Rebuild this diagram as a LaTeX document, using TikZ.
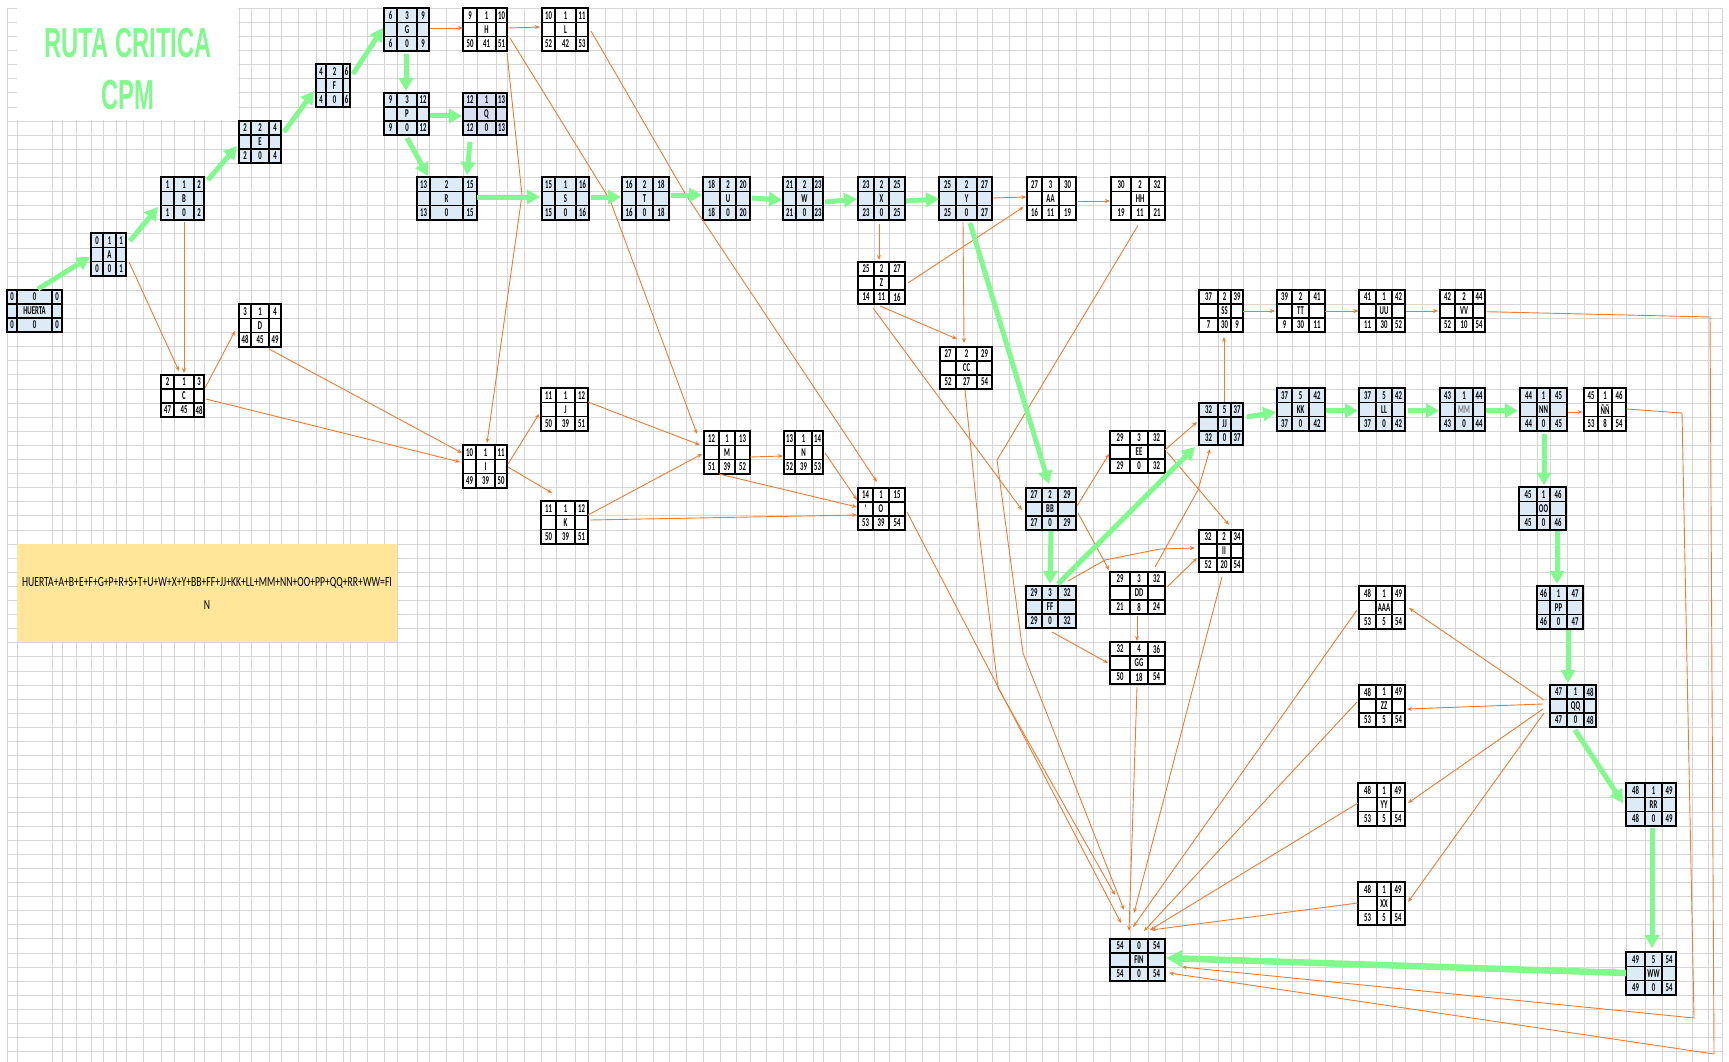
\documentclass[tikz,border=0pt]{standalone}
\usepackage{fontspec}
\setmainfont{Carlito}
\newfontfamily\titlef{Liberation Sans}
\usetikzlibrary{arrows.meta,calc}
\definecolor{org}{RGB}{237,125,49}
\definecolor{grn}{RGB}{128,250,140}
\definecolor{nb}{RGB}{221,235,247}
\definecolor{nq}{RGB}{218,222,242}
\definecolor{gridc}{RGB}{214,214,214}
\definecolor{ylw}{RGB}{255,230,153}
\newcommand\cellfont{\fontsize{12}{12}\selectfont\bfseries}
\newcommand\ct[1]{\scalebox{0.56}[1]{#1}}
\def\getgeom#1,#2,#3,#4,#5,#6\relax{\def\Gxa{#1}\def\Gca{#2}\def\Gcb{#3}\def\Gxb{#4}\def\Gya{#5}\def\Gyb{#6}}
\def\getnums#1,#2,#3,#4,#5,#6\relax{\def\Qa{#1}\def\Qb{#2}\def\Qc{#3}\def\Qd{#4}\def\Qe{#5}\def\Qf{#6}}
\newcommand\act[5][white]{%
 \getgeom#3\relax
 \getnums#5\relax
 \pgfmathsetmacro\Gww{\Gxb-\Gxa}%
 \pgfmathsetmacro\Ghh{\Gyb-\Gya}%
 \pgfmathsetmacro\Gra{\Gya+\Ghh/3}%
 \pgfmathsetmacro\Grb{\Gya+2*\Ghh/3}%
 \pgfmathsetmacro\GmA{(\Gxa+\Gca)/2}%
 \pgfmathsetmacro\GmB{(\Gca+\Gcb)/2}%
 \pgfmathsetmacro\GmC{(\Gcb+\Gxb)/2}%
 \pgfmathsetmacro\GyA{(\Gya+\Gra)/2}%
 \pgfmathsetmacro\GyB{(\Gra+\Grb)/2}%
 \pgfmathsetmacro\GyC{(\Grb+\Gyb)/2}%
 \node[fill=#1,inner sep=0,outer sep=0,minimum width=\Gww pt,minimum height=\Ghh pt,anchor=north west] (#2) at (\Gxa,\Gya) {};
 \draw[line width=1.2pt] (\Gxa,\Gya) rectangle (\Gxb,\Gyb) (\Gxa,\Gra) -- (\Gxb,\Gra) (\Gxa,\Grb) -- (\Gxb,\Grb) (\Gca,\Gya) -- (\Gca,\Gyb) (\Gcb,\Gya) -- (\Gcb,\Gyb);
 \node[cellt] at (\GmA,\GyA) {\ct{\Qa}};
 \node[cellt] at (\GmB,\GyA) {\ct{\Qb}};
 \node[cellt] at (\GmC,\GyA) {\ct{\Qc}};
 \node[cellt] at (\GmB,\GyB) {\ct{#4}};
 \node[cellt] at (\GmA,\GyC) {\ct{\Qd}};
 \node[cellt] at (\GmB,\GyC) {\ct{\Qe}};
 \node[cellt] at (\GmC,\GyC) {\ct{\Qf}};
}
\begin{document}
\begin{tikzpicture}[x=1pt,y=-1pt,
 oarr/.style={draw=org,line width=0.9pt,-{Stealth[length=5pt,width=4pt]}},
 garr/.style={draw=grn,line width=5pt,-{Triangle[length=13pt,width=14pt]}},
 gridl/.style={draw=gridc,line width=0.9pt},
 cellt/.style={inner sep=0,font=\cellfont}]
\useasboundingbox (0,0) rectangle (1729,1062);
\fill[white] (0,0) rectangle (1729,1062);
% grid
\foreach \gx in {7,17,52,62,76,91,103,116,126,143,161,174,194,204,221,239,251,269,281,298,316,326,343,350,367,384,397,417,429,446,463,477,496,507,524,541,556,575,588,605,622,636,653,669,686,703,720,736,750,766,783,796,813,823,840,858,874,889,905,922,939,956,977,992,1009,1026,1042,1058,1076,1093,1110,1130,1148,1165,1182,1199,1218,1231,1243,1260,1277,1292,1309,1325,1342,1359,1376,1392,1405,1422,1440,1455,1473,1485,1500,1520,1537,1550,1567,1584,1598,1612,1626,1645,1662,1676,1692,1708,1722}
  \draw[gridl] (\gx,8) -- (\gx,1062);
\foreach \k in {0,...,74}
  \draw[gridl] (7,{8.3+14.1*\k}) -- (1722,{8.3+14.1*\k});
% title
\node[fill=white,inner sep=0,minimum width=221pt,minimum height=112pt,anchor=north west] (titlebox) at (17,8) {};
\node[inner sep=0,text=grn,font=\titlef\bfseries\fontsize{42}{42}\selectfont] (t1) at (128,43) {\scalebox{0.565}[1]{RUTA CRITICA}};
\node[inner sep=0,text=grn,font=\titlef\bfseries\fontsize{42}{42}\selectfont] (t2) at (127.5,95) {\scalebox{0.565}[1]{CPM}};
% note
\node[fill=ylw,inner sep=0,minimum width=380pt,minimum height=98pt] (note) at (207,593) {};
\node[inner sep=0,font=\fontsize{14}{14}\selectfont] (n1) at (207,583) {\scalebox{0.69}[1]{HUERTA+A+B+E+F+G+P+R+S+T+U+W+X+Y+BB+FF+JJ+KK+LL+MM+NN+OO+PP+QQ+RR+WW=FI}};
\node[inner sep=0,font=\fontsize{14}{14}\selectfont] (n2) at (207,605) {\scalebox{0.69}[1]{N}};
% nodes
\act[nb]{HUERTA}{7,17,52,62,290,332}{HUERTA}{0,0,0,0,0,0}
\act[nb]{A}{91,103,116,126,233,276}{A}{0,1,1,0,0,1}
\act[nb]{B}{161,174,194,204,177,220}{B}{1,1,2,1,0,2}
\act{C}{161,174,194,204,375,417}{C}{2,1,3,47,45,48}
\act{D}{239,251,269,281,304,347}{D}{3,1,4,48,45,49}
\act[nb]{E}{239,251,269,281,121,163}{E}{2,2,4,2,0,4}
\act[nb]{F}{316,326,343,350,64,107}{F}{4,2,6,4,0,6}
\act[nb]{G}{384,397,417,429,8,51}{G}{6,3,9,6,0,9}
\act{H}{463,477,496,507,8,51}{H}{9,1,10,50,41,51}
\act{L}{542,555,576,588,8,51}{L}{10,1,11,52,42,53}
\act[nb]{P}{384,397,417,429,93,135}{P}{9,3,12,9,0,12}
\act[nq]{Q}{463,477,496,507,93,135}{Q}{12,1,13,12,0,13}
\act[nb]{R}{417,430,463,477,177,220}{R}{13,2,15,13,0,15}
\act[nb]{S}{542,555,576,589,177,220}{S}{15,1,16,15,0,16}
\act[nb]{T}{622,636,653,669,177,220}{T}{16,2,18,16,0,18}
\act[nb]{U}{703,720,736,750,177,220}{U}{18,2,20,18,0,20}
\act[nb]{W}{783,796,813,823,177,220}{W}{21,2,23,21,0,23}
\act[nb]{X}{858,874,889,905,177,220}{X}{23,2,25,23,0,25}
\act[nb]{Y}{939,956,977,992,177,220}{Y}{25,2,27,25,0,27}
\act{AA}{1027,1042,1059,1076,177,220}{AA}{27,3,30,16,11,19}
\act{HH}{1111,1131,1149,1165,177,220}{HH}{30,2,32,19,11,21}
\act{Z}{858,874,889,905,262,304}{Z}{25,2,27,14,11,16}
\act{CC}{940,956,977,992,347,389}{CC}{27,2,29,52,27,54}
\act{I}{463,476,495,507,445,488}{I}{10,1,11,49,39,50}
\act{J}{541,556,575,588,388,431}{J}{11,1,12,50,39,51}
\act{K}{541,556,575,588,501,544}{K}{11,1,12,50,39,51}
\act{M}{704,719,735,750,431,474}{M}{12,1,13,51,39,52}
\act{N}{784,795,812,823,431,474}{N}{13,1,14,52,39,53}
\act{O}{858,873,889,905,488,530}{O}{14,1,15,53,39,54}
\node[cellt] (Ocomma) at (865.5,506) {\ct{,}};
\act[nb]{BB}{1026,1042,1058,1076,488,530}{BB}{27,2,29,27,0,29}
\act{EE}{1110,1130,1148,1165,431,473}{EE}{29,3,32,29,0,32}
\act[nb]{JJ}{1199,1218,1231,1243,403,445}{JJ}{32,5,37,32,0,37}
\act[nb]{FF}{1026,1042,1058,1076,586,628}{FF}{29,3,32,29,0,32}
\act{DD}{1110,1130,1148,1165,572,614}{DD}{29,3,32,21,8,24}
\act{II}{1199,1217,1231,1243,530,572}{II}{32,2,34,52,20,54}
\act{GG}{1110,1130,1148,1165,642,684}{GG}{32,4,36,50,18,54}
\act{SS}{1199,1218,1231,1243,290,332}{SS}{37,2,39,7,30,9}
\act{TT}{1277,1292,1309,1325,290,332}{TT}{39,2,41,9,30,11}
\act{UU}{1359,1376,1392,1405,290,332}{UU}{41,1,42,11,30,52}
\act{VV}{1440,1455,1473,1485,290,332}{VV}{42,2,44,52,10,54}
\act[nb]{KK}{1277,1292,1309,1325,388,431}{KK}{37,5,42,37,0,42}
\act[nb]{LL}{1359,1376,1392,1405,388,431}{LL}{37,5,42,37,0,42}
\act[nb]{MM}{1440,1455,1473,1485,388,431}{\textcolor{gray}{MM}}{43,1,44,43,0,44}
\act[nb]{NN}{1520,1537,1550,1567,388,431}{NN}{44,1,45,44,0,45}
\act{NY}{1584,1598,1612,1626,388,431}{ÑÑ}{45,1,46,53,8,54}
\act[nb]{OO}{1519,1537,1550,1566,487,530}{OO}{45,1,46,45,0,46}
\act[nb]{PP}{1537,1550,1567,1583,586,629}{PP}{46,1,47,46,0,47}
\act[nb]{QQ}{1550,1567,1584,1596,685,727}{QQ}{47,1,48,47,0,48}
\act{AAA}{1359,1376,1392,1405,586,629}{AAA}{48,1,49,53,5,54}
\act{ZZ}{1359,1376,1392,1405,685,727}{ZZ}{48,1,49,53,5,54}
\act{YY}{1358,1377,1391,1405,783,826}{YY}{48,1,49,53,5,54}
\act{XX}{1358,1377,1391,1405,882,925}{XX}{48,1,49,53,5,54}
\act[nb]{RR}{1626,1645,1662,1676,783,826}{RR}{48,1,49,48,0,49}
\act[nb]{WW}{1626,1645,1662,1676,952,995}{WW}{49,5,54,49,0,54}
\act[nb]{FIN}{1110,1130,1148,1165,939,981}{FIN}{54,0,54,54,0,54}
% bend points
\coordinate (hb1) at (522,195);
\coordinate (hb2) at (610,200);
\coordinate (lb1) at (686,195);
\coordinate (fb1) at (1105,560);
\coordinate (fb2) at (1160,549);
\coordinate (db1) at (1198,490);
\coordinate (vb1) at (1710,317);
\coordinate (vb2) at (1714,1054);
\coordinate (nb1) at (1682,413);
\coordinate (nb2) at (1694,1018);
\coordinate (cb1) at (980,540);
\coordinate (cb2) at (998,688);
\coordinate (hh1) at (997,460);
\coordinate (hh2) at (1023,653);
% orange connectors
\draw[oarr] ([shift={(20.5,7.5)}]A.center) -- ([shift={(-3.5,-25)}]C.center);
\draw[oarr] ([shift={(1.5,23.5)}]B.center) -- ([shift={(1.5,-23)}]C.center);
\draw[oarr] ([shift={(22.5,-8)}]C.center) -- ([shift={(-25,5.5)}]D.center);
\draw[oarr] ([shift={(23.5,3)}]C.center) -- ([shift={(-25,-4.5)}]I.center);
\draw[oarr] ([shift={(9,23.5)}]D.center) -- ([shift={(-23,-13.5)}]I.center);
\draw[oarr] ([shift={(23.5,-1.5)}]G.center) -- ([shift={(-22,-1.5)}]H.center);
\draw[oarr] ([shift={(23,-1.5)}]H.center) -- ([shift={(-25,-2.5)}]L.center);
\draw[oarr] ([shift={(22,23.5)}]H.center) -- (hb1) -- ([shift={(2,-23.5)}]I.center);
\draw[oarr] ([shift={(25,8.5)}]H.center) -- (hb2) -- ([shift={(-30,-18.5)}]M.center);
\draw[oarr] ([shift={(26,1.5)}]L.center) -- (lb1) -- ([shift={(-4.5,-27)}]O.center);
\draw[oarr] ([shift={(23,-2.5)}]I.center) -- ([shift={(-25.5,4.5)}]J.center);
\draw[oarr] ([shift={(23,0.5)}]I.center) -- ([shift={(-12.5,-29.5)}]K.center);
\draw[oarr] ([shift={(23.5,-7.5)}]J.center) -- ([shift={(-27,-7.5)}]M.center);
\draw[oarr] ([shift={(23.5,-7.5)}]K.center) -- ([shift={(-25,1.5)}]M.center);
\draw[oarr] ([shift={(25.5,-2.5)}]K.center) -- ([shift={(-24.5,6)}]O.center);
\draw[oarr] ([shift={(23,4.5)}]M.center) -- ([shift={(-20.5,3.5)}]N.center);
\draw[oarr] ([shift={(-8,21.5)}]M.center) -- ([shift={(-24.5,-2)}]O.center);
\draw[oarr] ([shift={(21.5,0.5)}]N.center) -- ([shift={(-24.5,-9)}]O.center);
\draw[oarr] ([shift={(27.5,-0.5)}]Y.center) -- ([shift={(-25,-1.5)}]AA.center);
\draw[oarr] ([shift={(26.5,0)}]Z.center) -- ([shift={(-28,8.5)}]AA.center);
\draw[oarr] ([shift={(26,2.5)}]AA.center) -- ([shift={(-28,2.5)}]HH.center);
\draw[oarr] ([shift={(-2.5,25.5)}]X.center) -- ([shift={(-2.5,-23)}]Z.center);
\draw[oarr] ([shift={(-2.5,23.5)}]Y.center) -- ([shift={(-2,-25)}]CC.center);
\draw[oarr] ([shift={(-1.5,23)}]Z.center) -- ([shift={(-9,-29)}]CC.center);
\draw[oarr] ([shift={(-8.5,25)}]Z.center) -- ([shift={(-29,1)}]BB.center);
\draw[oarr] ([shift={(26,-3)}]BB.center) -- ([shift={(-28.5,2)}]EE.center);
\draw[oarr] ([shift={(27,4)}]BB.center) -- ([shift={(-28.5,-23)}]DD.center);
\draw[oarr] ([shift={(27.5,-2)}]EE.center) -- ([shift={(-24,-2)}]JJ.center);
\draw[oarr] ([shift={(29.5,0)}]EE.center) -- ([shift={(8,-26)}]II.center);
\draw[oarr] ([shift={(17,-26)}]FF.center) -- (fb1) -- (fb2) -- ([shift={(-26,-3)}]II.center);
\draw[oarr] ([shift={(17.5,-26)}]DD.center) -- (db1) -- ([shift={(-11,25)}]JJ.center);
\draw[oarr] ([shift={(29.5,-6)}]DD.center) -- ([shift={(-24,7)}]II.center);
\draw[oarr] ([shift={(-0.5,23)}]DD.center) -- ([shift={(-0.5,-22)}]GG.center);
\draw[oarr] ([shift={(1,25)}]FF.center) -- ([shift={(-29.5,0)}]GG.center);
\draw[oarr] ([shift={(3,-22)}]JJ.center) -- ([shift={(3,26)}]SS.center);
\draw[oarr] ([shift={(22,0)}]SS.center) -- ([shift={(-26,0)}]TT.center);
\draw[oarr] ([shift={(24.3,0)}]TT.center) -- ([shift={(-23.4,0)}]UU.center);
\draw[oarr] ([shift={(24,0)}]UU.center) -- ([shift={(-24.5,0)}]VV.center);
\draw[oarr] ([shift={(24,0.7)}]VV.center) -- (vb1) -- (vb2) -- ([shift={(31.5,13)}]FIN.center);
\draw[oarr] ([shift={(24.5,2.5)}]NN.center) -- ([shift={(-22.3,2.5)}]NY.center);
\draw[oarr] ([shift={(21.4,-0.5)}]NY.center) -- (nb1) -- (nb2) -- ([shift={(44.5,7)}]FIN.center);
\draw[oarr] ([shift={(-29,-6)}]QQ.center) -- ([shift={(27,0.5)}]AAA.center);
\draw[oarr] ([shift={(-30,-2)}]QQ.center) -- ([shift={(25,3)}]ZZ.center);
\draw[oarr] ([shift={(-30,3)}]QQ.center) -- ([shift={(26.5,-1.5)}]YY.center);
\draw[oarr] ([shift={(-29,7)}]QQ.center) -- ([shift={(26.5,-1.5)}]XX.center);
\draw[oarr] ([shift={(25.5,3)}]O.center) -- ([shift={(-16.5,-37)}]FIN.center);
\draw[oarr] ([shift={(-0.5,24)}]GG.center) -- ([shift={(-8.5,-29)}]FIN.center);
\draw[oarr] ([shift={(1,26)}]II.center) -- ([shift={(-3.5,-47)}]FIN.center);
\draw[oarr] ([shift={(-25,2.5)}]AAA.center) -- ([shift={(-4.5,-33)}]FIN.center);
\draw[oarr] ([shift={(-25,-4)}]ZZ.center) -- ([shift={(6.5,-29)}]FIN.center);
\draw[oarr] ([shift={(-23.5,-1.5)}]YY.center) -- ([shift={(12.5,-30)}]FIN.center);
\draw[oarr] ([shift={(-23.5,-0.5)}]XX.center) -- ([shift={(13.5,-30)}]FIN.center);
\draw[oarr] ([shift={(-1,22)}]CC.center) -- (cb1) -- (cb2) -- ([shift={(-22.5,-65)}]FIN.center);
\draw[oarr] ([shift={(0,27)}]HH.center) -- (hh1) -- (hh2) -- ([shift={(-13.5,-50)}]FIN.center);
% green critical path
\draw[garr] ([shift={(3.5,-22)}]HUERTA.center) -- ([shift={(-18.5,2.5)}]A.center);
\draw[garr] ([shift={(21.5,-13.5)}]A.center) -- ([shift={(-24.5,8.5)}]B.center);
\draw[garr] ([shift={(25.5,-18.5)}]B.center) -- ([shift={(-23,4)}]E.center);
\draw[garr] ([shift={(24,-10)}]E.center) -- ([shift={(-19,5.5)}]F.center);
\draw[garr] ([shift={(20,-11.5)}]F.center) -- ([shift={(-23.5,-1.5)}]G.center);
\draw[garr] ([shift={(-0.5,24.5)}]G.center) -- ([shift={(-0.5,-23)}]P.center);
\draw[garr] ([shift={(23.5,2)}]P.center) -- ([shift={(-23,2)}]Q.center);
\draw[garr] ([shift={(0.5,24)}]P.center) -- ([shift={(-19,-22.5)}]R.center);
\draw[garr] ([shift={(-15,28)}]Q.center) -- ([shift={(20,-23.5)}]R.center);
\draw[garr] ([shift={(30,-1.5)}]R.center) -- ([shift={(-25.5,-1.5)}]S.center);
\draw[garr] ([shift={(25.5,-1.5)}]S.center) -- ([shift={(-24.5,-1.5)}]T.center);
\draw[garr] ([shift={(25.5,-3.5)}]T.center) -- ([shift={(-24.5,-3.5)}]U.center);
\draw[garr] ([shift={(25.5,-0.5)}]U.center) -- ([shift={(-21,1.5)}]W.center);
\draw[garr] ([shift={(22,3.5)}]W.center) -- ([shift={(-24.5,0.5)}]X.center);
\draw[garr] ([shift={(24.5,2.5)}]X.center) -- ([shift={(-26.5,0.5)}]Y.center);
\draw[garr] ([shift={(4.5,24.5)}]Y.center) -- ([shift={(-2,-25)}]BB.center);
\draw[garr] ([shift={(0,22)}]BB.center) -- ([shift={(-1,-23)}]FF.center);
\draw[garr] ([shift={(7,-23)}]FF.center) -- ([shift={(-26,23)}]JJ.center);
\draw[garr] ([shift={(26,-7)}]JJ.center) -- ([shift={(-25,2.5)}]KK.center);
\draw[garr] ([shift={(24.5,1.2)}]KK.center) -- ([shift={(-24,1.2)}]LL.center);
\draw[garr] ([shift={(25.6,1.2)}]LL.center) -- ([shift={(-23.5,1.2)}]MM.center);
\draw[garr] ([shift={(23,1.2)}]MM.center) -- ([shift={(-25.6,1.2)}]NN.center);
\draw[garr] ([shift={(0.5,24)}]NN.center) -- ([shift={(1.5,-23)}]OO.center);
\draw[garr] ([shift={(14.5,22.5)}]OO.center) -- ([shift={(-3,-23.5)}]PP.center);
\draw[garr] ([shift={(8,22.5)}]PP.center) -- ([shift={(-5,-23)}]QQ.center);
\draw[garr] ([shift={(2,24)}]QQ.center) -- ([shift={(-28,-1.5)}]RR.center);
\draw[garr] ([shift={(1,23.5)}]RR.center) -- ([shift={(1,-25.5)}]WW.center);
\draw[garr,line width=6.5pt,-{Triangle[length=16pt,width=16pt]}] ([shift={(-25,-0.5)}]WW.center) -- ([shift={(28.5,-2)}]FIN.center);
\end{tikzpicture}
\end{document}
